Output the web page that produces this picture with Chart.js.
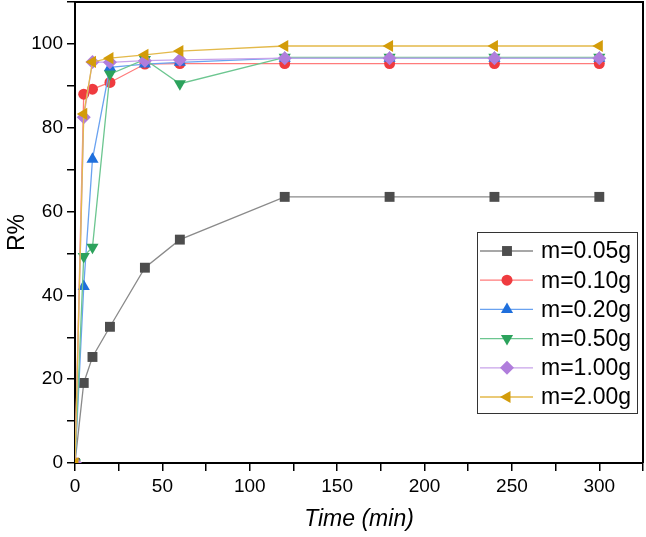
<!DOCTYPE html>
<html>
<head>
<meta charset="utf-8">
<script src="https://cdn.jsdelivr.net/npm/chart.js@4.4.1/dist/chart.umd.min.js"></script>
<style>
  html, body { margin: 0; padding: 0; background: #fff; }
  #wrap { width: 646px; height: 537px; }
</style>
</head>
<body>
<div id="wrap"><canvas id="chart" width="646" height="537"></canvas></div>
<script>
const time = [0, 5, 10, 20, 40, 60, 120, 180, 240, 300];
const m005 = [0, 19.1, 25.3, 32.5, 46.6, 53.3, 63.5, 63.5, 63.5, 63.5];
const m010 = [0, 88.0, 89.2, 90.8, 95.2, 95.3, 95.3, 95.3, 95.3, 95.3];
const m020 = [0, 42.1, 72.5, 94.4, 95.2, 95.6, 96.6, 96.6, 96.6, 96.6];
const m050 = [0, 49.3, 51.5, 92.8, 96.3, 90.5, 96.8, 96.8, 96.8, 96.8];
const m100 = [0, 82.5, 95.7, 95.6, 96.0, 96.2, 96.6, 96.6, 96.6, 96.6];
const m200 = [0, 83.3, 95.7, 96.6, 97.4, 98.3, 99.5, 99.5, 99.5, 99.5];
const seriesNames = ["m=0.05g", "m=0.10g", "m=0.20g", "m=0.50g", "m=1.00g", "m=2.00g"];

const FONT = "'Liberation Sans', Arial, sans-serif";

const styles = [
    { marker: "#4d4d4d", line: "#8a8a8a", shape: "rect", rot: 0, r: 7 },
    { marker: "#ef3b3f", line: "#ff7b7b", shape: "circle", rot: 0, r: 5.5 },
    { marker: "#1f6fdc", line: "#6aa2f0", shape: "triangle", rot: 0, r: 7 },
    { marker: "#2ca25c", line: "#6cc690", shape: "triangle", rot: 180, r: 7 },
    { marker: "#b07ddc", line: "#c8a3ea", shape: "rectRot", rot: 0, r: 7 },
    { marker: "#d39c0a", line: "#e3b94a", shape: "triangle", rot: 270, r: 7 }
];

const allValues = [m005, m010, m020, m050, m100, m200];

const datasets = allValues.map((vals, i) => ({
    label: seriesNames[i],
    data: time.map((t, k) => ({ x: t, y: vals[k] })),
    borderColor: styles[i].line,
    backgroundColor: styles[i].marker,
    borderWidth: 1.3,
    pointStyle: styles[i].shape,
    pointRotation: styles[i].rot,
    pointRadius: styles[i].r,
    pointBorderWidth: 0,
    pointBackgroundColor: styles[i].marker,
    tension: 0,
    order: 6 - i
}));

// frame + legend box
const framePlugin = {
    id: "frame",
    afterDraw(chart) {
        const { ctx, chartArea } = chart;
        ctx.save();
        ctx.strokeStyle = "#000";
        ctx.lineWidth = 2;
        ctx.beginPath();
        ctx.moveTo(chartArea.left, chartArea.top);
        ctx.lineTo(chartArea.right, chartArea.top);
        ctx.lineTo(chartArea.right, chartArea.bottom);
        ctx.stroke();

        // legend
        const bx = 477, by = 232, bw = 160, bh = 181;
        ctx.fillStyle = "#fff";
        ctx.fillRect(bx, by, bw, bh);
        ctx.lineWidth = 1;
        ctx.strokeStyle = "#333";
        ctx.strokeRect(bx + 0.5, by + 0.5, bw, bh);
        ctx.font = "23px " + FONT;
        ctx.textBaseline = "middle";
        seriesNames.forEach((name, i) => {
            const y = 251 + i * 29.2;
            ctx.strokeStyle = styles[i].line;
            ctx.lineWidth = 1.3;
            ctx.beginPath();
            ctx.moveTo(480, y);
            ctx.lineTo(533, y);
            ctx.stroke();
            ctx.fillStyle = styles[i].marker;
            Chart.helpers.drawPoint(ctx, {
                pointStyle: styles[i].shape,
                rotation: styles[i].rot,
                radius: styles[i].r,
                borderWidth: 0
            }, 507, y);
            ctx.fillStyle = "#000";
            ctx.fillText(name, 541, y + 1);
        });
        ctx.restore();
    }
};

new Chart(document.getElementById("chart"), {
    type: "line",
    data: { datasets },
    plugins: [framePlugin],
    options: {
        responsive: false,
        animation: false,
        layout: { autoPadding: false, padding: { left: 0, right: 3, top: 2, bottom: 0 } },
        plugins: {
            legend: { display: false },
            tooltip: { enabled: false }
        },
        scales: {
            x: {
                type: "linear",
                min: 0,
                max: 325,
                afterFit(scale) {
                    scale.height = 74;
                    scale.paddingLeft = 0;
                    scale.paddingRight = 0;
                },
                border: { color: "#000", width: 2 },
                grid: {
                    drawOnChartArea: false,
                    drawTicks: true,
                    tickLength: 8,
                    color: "#000",
                    lineWidth: 1.5
                },
                ticks: {
                    stepSize: 25,
                    autoSkip: false,
                    maxRotation: 0,
                    color: "#000",
                    padding: 4,
                    font: { family: FONT, size: 19 },
                    callback: v => (v % 50 === 0 ? v : "")
                },
                title: {
                    display: true,
                    text: "Time (min)",
                    color: "#000",
                    padding: { top: 8 },
                    font: { family: FONT, size: 23, style: "italic" }
                }
            },
            y: {
                min: 0,
                max: 110,
                afterFit(scale) {
                    scale.width = 75;
                    scale.paddingTop = 0;
                    scale.paddingBottom = 0;
                },
                border: { color: "#000", width: 2 },
                grid: {
                    drawOnChartArea: false,
                    drawTicks: true,
                    tickLength: 8,
                    color: "#000",
                    lineWidth: 1.5
                },
                ticks: {
                    stepSize: 10,
                    autoSkip: false,
                    color: "#000",
                    padding: 4,
                    font: { family: FONT, size: 19 },
                    callback: v => (v % 20 === 0 ? v : "")
                },
                title: {
                    display: true,
                    text: "R%",
                    color: "#000",
                    padding: { top: 4, bottom: 0 },
                    font: { family: FONT, size: 23 }
                }
            }
        }
    }
});
</script>
</body>
</html>
